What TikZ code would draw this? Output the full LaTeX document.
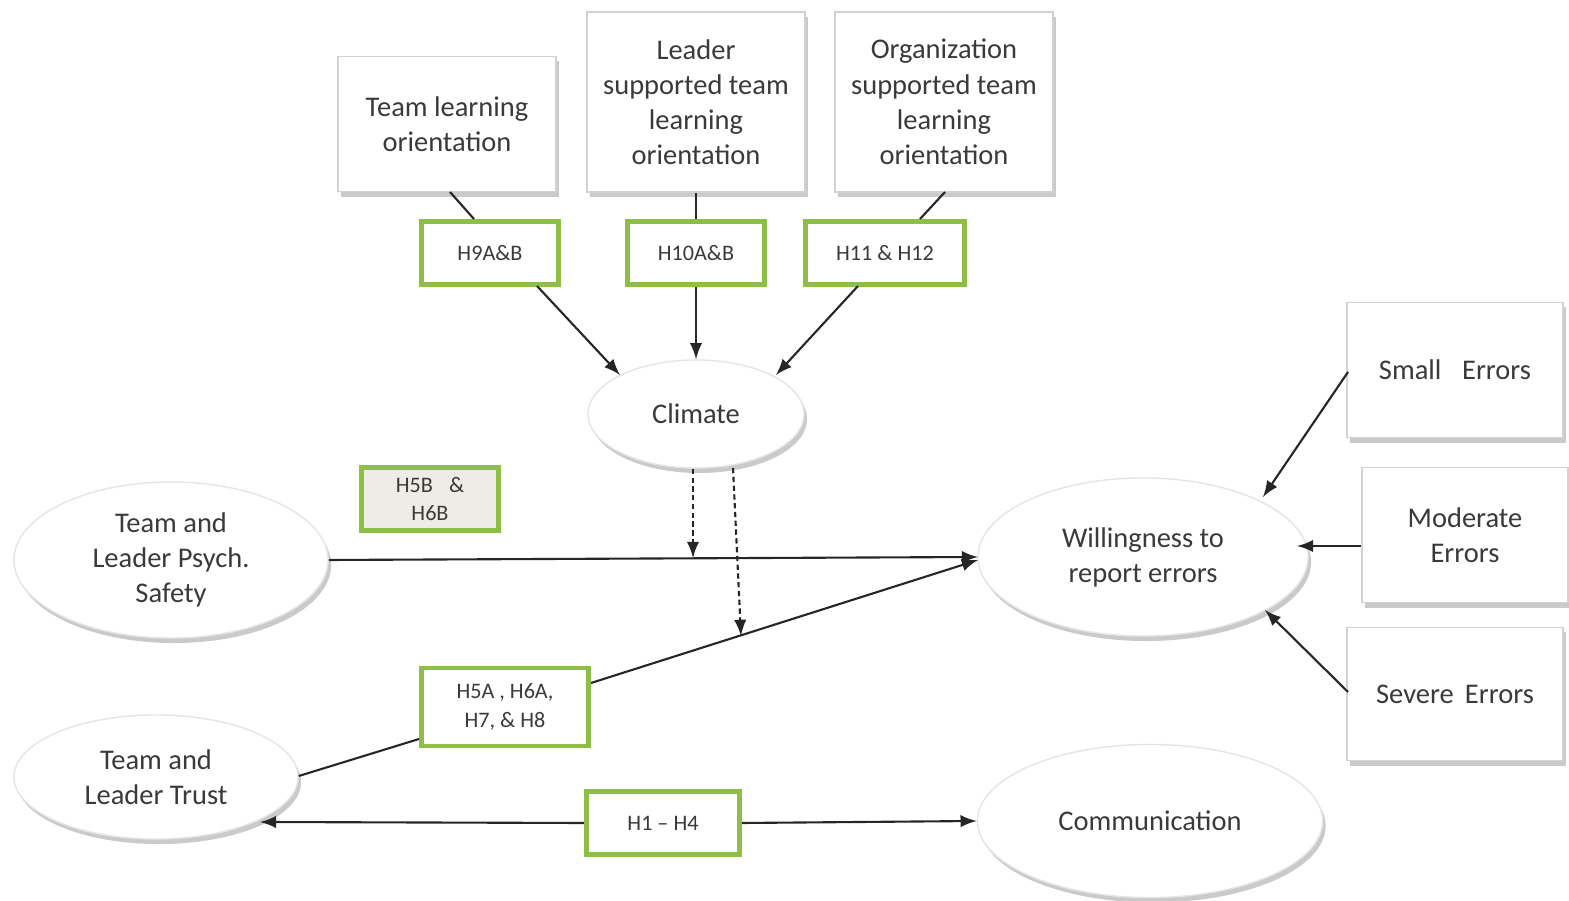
\documentclass[tikz,border=0pt]{standalone}
\usepackage{fontspec}
\setmainfont{Carlito}
\usepackage{tikz}
\usetikzlibrary{arrows}
\usetikzlibrary{shapes.geometric}
\usetikzlibrary{shadows}
\definecolor{hypgreen}{HTML}{8DBE45}
\definecolor{hypfill}{HTML}{EEECE4}
\definecolor{inkgray}{HTML}{3A3A3A}
\tikzstyle{soft shadow} = [drop shadow = {shadow xshift = .03cm, shadow yshift = -.05cm, fill = gray!70, opacity = .6}]
\tikzstyle{concept box} = [draw = gray!35, fill = white, text = inkgray, align = center, inner sep = 0, minimum width = 2.18cm, minimum height = 1.35cm, soft shadow, font = \fontsize{8.1}{10}\selectfont]
\tikzstyle{hyp box} = [draw = hypgreen, line width = 1.4pt, fill = white, text = inkgray, align = center, inner sep = 0, minimum width = 1.37cm, minimum height = .63cm, font = \fontsize{6.3}{8.2}\selectfont]
\tikzstyle{construct} = [ellipse, draw = gray!20, fill = white, text = inkgray, align = center, inner sep = 0, soft shadow, font = \fontsize{8.1}{10}\selectfont]
\tikzstyle{link} = [line width = .6pt, black!85]
\tikzstyle{effect} = [link, -latex]
\tikzstyle{moderation} = [link, -latex, dash pattern = on 1.5pt off 1pt]
\tikzstyle{model picture} = [x = .01cm, y = -.01cm]

\begin{document}
\begin{tikzpicture}[model picture]
    \useasboundingbox (0, 0) rectangle (1569, 901);

    % antecedents
    \node [concept box] (team lo) at (447, 124) {Team learning\\orientation};
    \node [concept box, minimum height = 1.8cm] (leader lo) at (696, 102) {Leader\\supported team\\learning\\orientation};
    \node [concept box, minimum height = 1.8cm] (org lo) at (944, 102) {Organization\\supported team\\learning\\orientation};

    \node [hyp box] (h9) at (490, 253) {H9A\&B};
    \node [hyp box] (h10) at (696, 253) {H10A\&B};
    \node [hyp box, minimum width = 1.59cm] (h11) at (885, 253) {H11 \& H12};

    \node [construct, minimum width = 2.16cm, minimum height = 1.08cm] (climate) at (696, 414) {Climate};

    % main constructs
    \node [construct, minimum width = 3.14cm, minimum height = 1.56cm] (safety) at (171, 560) {Team and\\Leader Psych.\\Safety};
    \node [construct, minimum width = 2.84cm, minimum height = 1.24cm] (trust) at (156, 777) {Team and\\Leader Trust};
    \node [construct, minimum width = 3.3cm, minimum height = 1.58cm] (willing) at (1143, 557) {Willingness to\\report errors};
    \node [construct, minimum width = 3.45cm, minimum height = 1.53cm] (comm) at (1150, 821) {Communication};

    \node [hyp box, fill = hypfill] (h5b) at (430, 499) {H5B \enspace\&\\H6B};
    \node [hyp box, minimum width = 1.67cm, minimum height = .78cm] (h5a) at (505, 707) {H5A , H6A,\\H7, \& H8};
    \node [hyp box, minimum width = 1.53cm] (h1) at (663, 823) {H1 -- H4};

    % error types
    \node [concept box, minimum width = 2.16cm] (small) at (1455, 370) {Small \enspace Errors};
    \node [concept box, minimum width = 2.06cm] (moderate) at (1465, 535) {Moderate\\Errors};
    \node [concept box, minimum width = 2.16cm, minimum height = 1.33cm] (severe) at (1455, 694) {Severe \,Errors};

    % paths into climate
    \draw [link] (450, 192) -- (h9.north -| 474, 0);
    \draw [effect] (537, 286) -- (620, 375);
    \draw [link] (leader lo.south) -- (h10.north);
    \draw [effect] (h10.south) -- (climate.north);
    \draw [link] (945, 192) -- (h11.north -| 920, 0);
    \draw [effect] (858, 286) -- (776, 375);

    % main effects
    \coordinate (safety end) at (978, 557);
    \draw [effect] (safety.east) -- (safety end);
    \coordinate (trust end) at (978, 560);
    \draw [link] (trust.east |- 0, 776) -- (h5a.south west |- 0, 739);
    \draw [effect] (h5a.north east |- 0, 683) -- (trust end);
    \draw [effect] (h1.west) -- (260, 822);
    \draw [effect] (h1.east) -- (comm.west);

    % moderation by climate
    \coordinate (mod a) at (693, 558);
    \coordinate (mod b) at (741, 636);
    \draw [moderation] (climate.south -| mod a) -- (mod a);
    \draw [moderation] (733, 468) -- (mod b);

    % error types into willingness
    \draw [effect] (1348, 372) -- (1263, 497);
    \draw [effect] (moderate.west |- 0, 546) -- (1297, 546);
    \draw [effect] (1348, 692) -- (1265, 610);
\end{tikzpicture}
\end{document}
